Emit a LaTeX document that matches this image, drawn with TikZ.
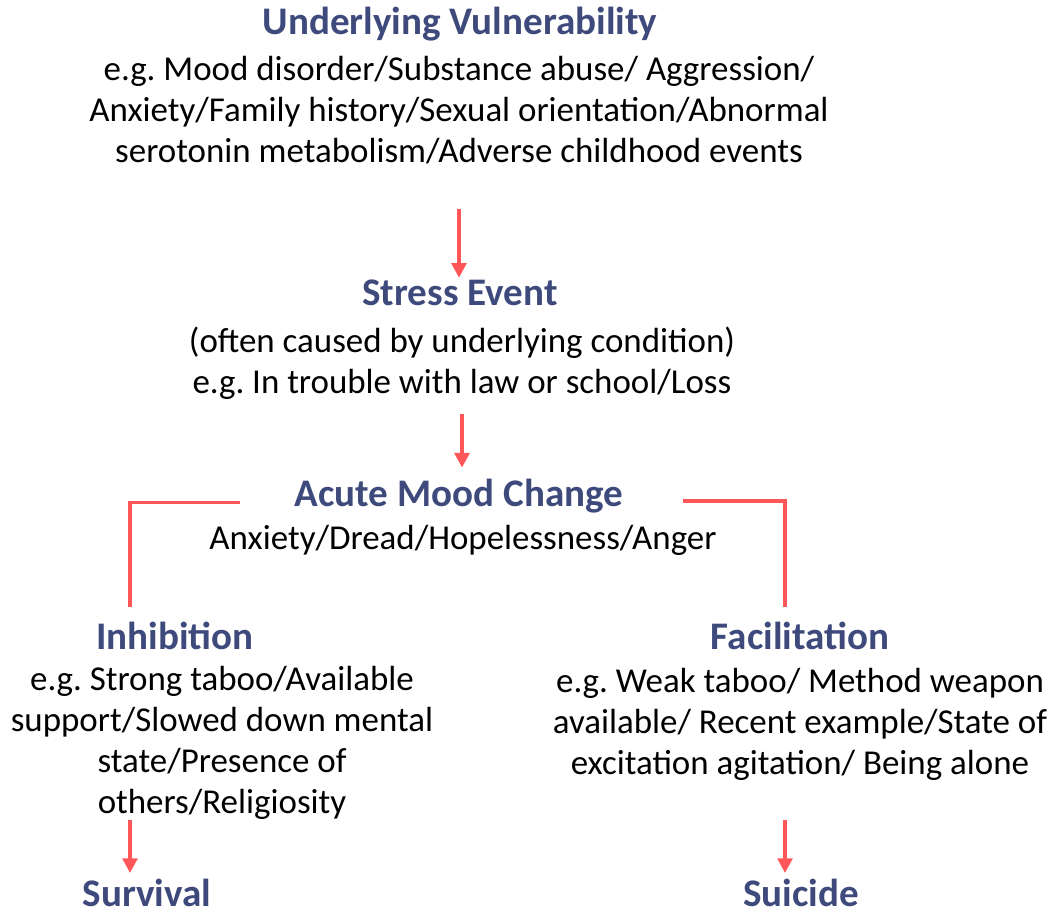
\documentclass[tikz,border=0pt]{standalone}
\usepackage{fontspec}
\setmainfont{Carlito}
\usetikzlibrary{arrows.meta, positioning}
\definecolor{headblue}{HTML}{3F4A7C}
\definecolor{arrowred}{HTML}{FF5757}
\frenchspacing

\begin{document}
\begin{tikzpicture}[x=0.75pt, y=-0.75pt,
    headtext/.style={inner sep=0pt, text=headblue,
        font=\fontsize{29.3}{34}\selectfont\bfseries},
    bodytext/.style={inner sep=0pt, align=center,
        font=\fontsize{26.2}{30.75}\selectfont},
    arrow/.style={draw=arrowred, line width=2.7pt,
        -{Triangle[length=11pt, width=11pt]}},
    bracket/.style={draw=arrowred, line width=2.5pt}
]
\useasboundingbox (0,0) rectangle (1056,920);
% main column
\node[headtext, anchor=base] (vulnhead) at (460,35) {Underlying Vulnerability};
\node[bodytext] (vulnbody) at (459,110)
    {e.g. Mood disorder/Substance abuse/ Aggression/\\
     Anxiety/Family history/Sexual orientation/Abnormal\\
     serotonin metabolism/Adverse childhood events};
\node[headtext, anchor=base] (stresshead) at (460,305) {Stress Event};
\node[bodytext] (stressbody) at (462,363)
    {(often caused by underlying condition)\\
     e.g. In trouble with law or school/Loss};
\node[headtext, anchor=base] (moodhead) at (459,506) {Acute Mood Change};
\node[bodytext] (moodbody) at (463,540)
    {Anxiety/Dread/Hopelessness/Anger};
% two branches
\node[headtext, anchor=base] (inhibhead) at (175,649) {Inhibition};
\node[bodytext] (inhibbody) at (222,743)
    {e.g. Strong taboo/Available\\
     support/Slowed down mental\\
     state/Presence of\\
     others/Religiosity};
\node[headtext, anchor=base] (facilhead) at (800,649) {Facilitation};
\node[bodytext] (facilbody) at (800,724)
    {e.g. Weak taboo/ Method weapon\\
     available/ Recent example/State of\\
     excitation agitation/ Being alone};
\node[headtext, anchor=base] (survival) at (147,906) {Survival};
\node[headtext, anchor=base] (suicide) at (801,906) {Suicide};
\coordinate (inhibtop) at (130,607);
\coordinate (faciltop) at (785,607);
\coordinate (inhibout) at (130,820);
\coordinate (facilout) at (785,820);
% arrows
\draw[arrow, shorten <=34pt, shorten >=1pt] (vulnbody.south) -- (vulnbody.south |- stresshead.north);
\draw[arrow, shorten <=11pt, shorten >=8pt] (stressbody.south) -- (stressbody.south |- moodhead.north);
\draw[bracket] ([xshift=-41pt, yshift=-5pt]moodhead.west) -| (inhibtop);
\draw[bracket, line width=3.6pt] ([xshift=45pt, yshift=-4pt]moodhead.east) -| (faciltop);
\draw[arrow] (inhibout) -- ([yshift=4pt]inhibout |- survival.north);
\draw[arrow] (facilout) -- ([yshift=4pt]facilout |- suicide.north);
\end{tikzpicture}
\end{document}
